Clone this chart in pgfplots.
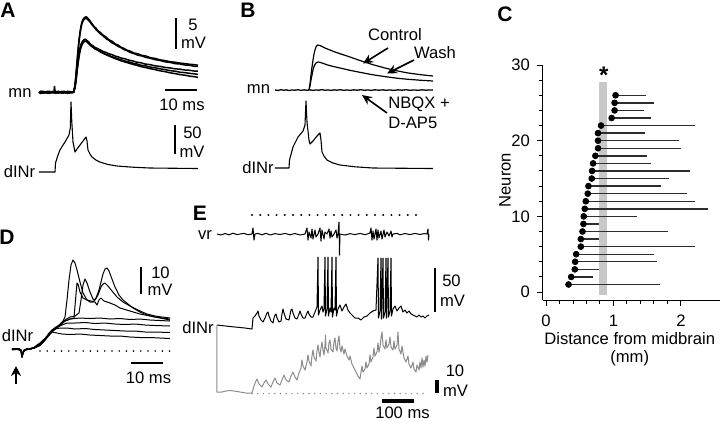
\documentclass[border=0pt]{standalone}
\usepackage{fontspec}
\setmainfont{Liberation Sans}
\usepackage{pgfplots}
\usepackage{pgfplotstable}
\pgfplotsset{compat=1.18}
\usetikzlibrary{arrows.meta}
\definecolor{trgray}{RGB}{140,140,140}
\definecolor{bargray}{RGB}{200,200,200}
\definecolor{linegray}{RGB}{45,45,45}
\newcommand\lf{\fontsize{8.3}{9}\selectfont}
\newcommand\pf{\fontsize{10.5}{12}\selectfont\bfseries}
\tikzset{txt/.style={font=\lf, inner sep=0pt}, plab/.style={font=\pf, inner sep=0pt}}

\pgfplotstableread{
n start end
1 0.334 1.685
2 0.373 0.698
3 0.427 0.791
4 0.432 1.641
5 0.447 1.597
6 0.516 2.211
7 0.516 0.791
8 0.541 1.808
9 0.555 0.781
10 0.560 1.356
11 0.575 2.408
12 0.590 2.211
13 0.619 2.088
14 0.629 1.710
15 0.678 1.828
16 0.683 2.142
17 0.698 1.553
18 0.732 1.499
19 0.771 1.995
20 0.771 1.966
21 0.771 1.474
22 0.816 2.211
23 0.973 1.553
24 1.017 1.450
25 1.017 1.602
26 1.032 1.484
}\neurontable

\begin{document}
\begin{tikzpicture}
\useasboundingbox (0,0) rectangle (360pt,-210pt);
% ---------- overlay axis in pixel units for traces (A, B, D, E) ----------
\begin{axis}[at={(0pt,0pt)}, anchor=north west, scale only axis,
  width=360pt, height=210pt, xmin=0, xmax=720, ymin=0, ymax=420,
  y dir=reverse, hide axis, clip=false,
  every axis plot/.append style={mark=none, line join=round, black, line width=0.5pt}]
% ===== Panel A =====
\node[plab] at (8,10.5) {A};
\addplot[line width=0.75pt] coordinates {(39,92)(40.5,93.5)(42,91)(43.5,93.2)(45,91.5)(46.5,93)(48,91.2)(49.5,93.4)(51,91.6)(52.5,93)(54,91.5)(54.5,86.5)(55.3,93.5)(57,91.4)(58.5,93.2)(60,91.5)(61.5,93.3)(63,91.2)(64.5,93)(66,91.6)(67.5,93.4)(69,91.3)(70.5,93)(72,91.6)(73.5,92.5)};
\addplot[line width=0.75pt] coordinates {(39,93)(40.5,91.2)(42,93.4)(43.5,91.3)(45,93.2)(46.5,91.4)(48,93.5)(49.5,91.2)(51,93.1)(52.5,91.3)(54,93.2)(55.5,91.2)(57,93.4)(58.5,91.2)(60,93.1)(61.5,91.4)(63,93.3)(64.5,91.3)(66,93.2)(67.5,91.2)(69,93.3)(70.5,91.5)(72,93)(73.5,92.5)};
\addplot[line width=0.75pt] coordinates {(73.5,92.5)(75,85)(76,74)(77,62)(78,50)(79,40)(80,32)(81,26)(82,22)(83,19.5)(84,18)(85,17.2)(86,16.8)(87,17.3)(88,18.3)(90,20.8)(92,23.6)(94,26.4)(96,28.2)(98,30.8)(100,32.2)(103,35)(106,37)(109,39.8)(112,41.2)(115,43.8)(118,45)(121,47.2)(124,48.4)(127,50.2)(130,51)(134,53)(138,53.8)(142,55.4)(146,56)(150,57.6)(155,58.4)(160,59.8)(165,60.6)(170,61.7)(175,62.2)(180,63.1)(185,63.6)(190,64.3)(194,64.6)(198,65.2)};
\addplot[line width=0.75pt] coordinates {(73.5,92.5)(75,86)(76,76)(77,64)(78,52)(79,42)(80,34)(81,28)(82,23.5)(83,21)(84,19.5)(85,18.6)(86,18.4)(87,18.8)(88,19.8)(90,22)(92,24.8)(94,27)(96,29.6)(98,31.4)(100,33.6)(103,35.8)(106,38.6)(109,40.4)(112,42.8)(115,44.4)(118,46.4)(121,47.6)(124,49.6)(127,50.6)(130,52.4)(134,53.6)(138,55.2)(142,56)(146,57.4)(150,58.2)(155,59.6)(160,60.4)(165,61.8)(170,62.4)(175,63.6)(180,64)(185,65)(190,65.3)(194,66.2)(198,66.4)};
\addplot[line width=0.75pt] coordinates {(73.5,92.5)(75,87)(76,80)(77,71)(78,62)(79,55)(80,49.5)(81,45.5)(82,43)(83,41.3)(84,40.2)(85,39.6)(86,39.8)(87,40.6)(89,42.4)(91,44.6)(93,45.8)(95,47.4)(97,48.2)(100,49.8)(103,51.4)(106,52.4)(109,53.8)(112,54.6)(115,56)(118,56.8)(121,58)(125,58.8)(129,60.2)(133,61)(137,62.2)(141,62.8)(145,64)(150,64.6)(155,65.8)(160,66.4)(165,67.4)(170,67.9)(175,68.8)(180,69.2)(185,70)(190,70.3)(194,71)(198,71.2)};
\addplot[line width=0.75pt] coordinates {(73.5,92.5)(75,88)(76,81)(77,72)(78,64)(79,57)(80,51.5)(81,47.5)(82,44.8)(83,43)(84,41.8)(85,41.2)(86,41.3)(87,42)(89,44)(91,46)(93,47.4)(95,49)(97,49.8)(100,51.6)(103,53)(106,54.4)(109,55.4)(112,56.8)(115,57.6)(118,58.8)(121,59.8)(125,61)(129,62)(133,63.2)(137,64)(141,65.2)(145,65.8)(150,67)(155,67.8)(160,68.8)(165,69.6)(170,70.6)(175,71.2)(180,72.2)(185,72.6)(190,73.4)(194,73.8)(198,74.4)};
\addplot[line width=0.75pt] coordinates {(73.5,92.5)(75,87)(76,79)(77,69)(78,60)(79,53)(80,48)(81,44.5)(82,42)(83,40.6)(84,39.6)(85,39.2)(86,39.6)(87,40.6)(89,42.8)(91,45)(93,46.6)(95,48.4)(97,49.6)(100,51.4)(103,53.2)(106,54.6)(109,56)(112,57.2)(115,58.6)(118,59.6)(121,60.8)(125,62)(129,63.2)(133,64.4)(137,65.4)(141,66.6)(145,67.4)(150,68.6)(155,69.6)(160,70.8)(165,71.6)(170,72.8)(175,73.6)(180,74.6)(185,75.2)(190,76.2)(194,76.6)(198,77.4)};
\addplot[line width=0.55pt] coordinates {(39,172)(55,172)(55.5,163)(58,155)(60,150)(63,145)(65,142)(67,138.5)(69,135)(70.3,128)(71,102)(71.8,122)(73,142)(75,152)(77,149)(80,145)(83,141)(86,137)(87,141)(88,150)(90,154)(92,157)(96,160)(100,162)(108,164.5)(117,166)(133,167.2)(150,168)(198,168.5)};
\node[txt] at (20,93) {mn};
\node[txt] at (19.5,172) {dINr};
\addplot[line width=1.3pt] coordinates {(176,18)(176,49)};
\node[txt] at (193,25) {5};
\node[txt] at (193.5,43) {mV};
\addplot[line width=1.3pt] coordinates {(165,90)(197,90)};
\node[txt] at (182,105) {10 ms};
\addplot[line width=1.3pt] coordinates {(175,125)(175,154)};
\node[txt] at (192.5,133) {50};
\node[txt] at (192,152) {mV};
% ===== Panel B =====
\node[plab] at (248,10.5) {B};
\addplot[line width=0.65pt] coordinates {(275,90)(278,90.4)(281,89.7)(284,90.3)(286,89.8)(289,90.5)(292,89.9)(295,90.2)(298,89.7)(301,90.4)(304,89.8)(307,90.3)(310,89.8)(313,90.4)(316,89.9)(319,90.2)(322,89.6)(325,90.3)(328,89.9)(331,90.4)(334,89.8)(337,90.2)(340,89.7)(344,90.3)(347,89.9)(350,90.4)(354,89.8)(357,90.2)(361,89.7)(364,90.3)(368,89.9)(371,90.4)(375,89.8)(379,90.2)(383,89.8)(386,90.3)(390,89.9)(394,90.4)(398,89.8)(402,90.2)(406,89.7)(410,90.3)(414,89.9)(418,90.3)(422,89.8)(426,90.2)(430,89.9)(433,90.1)};
\addplot[line width=0.6pt] coordinates {(309,90)(310,84)(311,75)(312,67)(313,60)(314,54)(315,50)(316,47)(317,45.5)(318,45)(320,45.5)(322,46.5)(325,48)(330,50)(335,52)(340,53.7)(350,57)(360,60.5)(373,64.7)(385,68)(397,70.8)(407,72.8)(420,74.6)(433,76)};
\addplot[line width=0.6pt] coordinates {(309,90)(310,86)(311,80)(312,75)(313,70)(314,66.5)(315,64.5)(316,63)(318,62)(320,62.3)(323,63.3)(327,64.8)(333,66.4)(340,68)(350,70.3)(360,72.3)(373,74.8)(385,76.6)(397,78.2)(407,79.2)(420,80.2)(433,81)};
\addplot[line width=0.55pt] coordinates {(275,168)(289,168)(289.5,160)(293,147)(298,137)(303,131)(305,125)(306,101)(307,122)(309,140)(310,144)(313,141)(317,136)(320,133)(321,140)(322,152)(324,156)(327,160)(333,163)(340,165)(355,166.8)(373,168)(433,168.5)};
\node[txt] at (258.5,89) {mn};
\node[txt] at (258,168) {dINr};
\node[txt] at (395,35) {Control};
\node[txt] at (435,53) {Wash};
\node[txt, anchor=west] at (388,104.5) {NBQX +};
\node[txt, anchor=west] at (388,122.5) {D-AP5};
\draw[line width=0.8pt, -{Stealth[length=5pt,width=4.5pt]}] (388,48) -- (363,63.5);
\draw[line width=0.8pt, -{Stealth[length=5pt,width=4.5pt]}] (414,60) -- (387,73.5);
\draw[line width=0.8pt, -{Stealth[length=5pt,width=4.5pt]}] (387,113) -- (362,95);
% ===== Panel D =====
\node[plab] at (7,237) {D};
\addplot[line width=0.5pt] coordinates {(12,349)(16,348.5)(19,349.5)(21,351)(22,357)(23,354)(24,350)(27,349)(31,348.5)(34,348)(37,346)(40,344)(43,341)(46,337)(49,334)(52,331)(55,328)(58,326)(60,324)(63,321)(65,317)(67,300)(69,280)(71,265)(73,260)(75,263)(77,270)(80,282)(83,293)(87,300)(90,302)(93,302)(96,298)(99,290)(101,282)(103,274)(105,269)(107,268)(109,271)(112,279)(115,287)(119,295)(123,300)(128,304)(133,308)(140,312)(147,315)(155,317)(162,318)(170,319)};
\addplot[line width=0.5pt] coordinates {(12,350)(16,349.5)(19,348.5)(21,350)(22,356)(23,353)(24,351)(27,348.5)(31,349)(34,347.5)(37,345)(40,343)(43,340)(46,338)(49,333)(52,330)(55,329)(58,327)(60,325)(65,320)(70,317)(75,316)(79,313)(81,300)(83,285)(85,279)(87,283)(90,292)(93,299)(95,300)(98,295)(101,287)(103,284)(105,283)(108,286)(112,291)(117,297)(123,302)(130,306)(140,311)(147,314)(155,316)(162,317)(170,318)};
\addplot[line width=0.5pt] coordinates {(12,348.5)(16,349)(19,350)(21,350.5)(22,356.5)(23,352)(24,350.5)(27,349.5)(31,348)(34,348.5)(37,346.5)(40,343.5)(43,342)(46,337.5)(49,335)(52,331)(55,329)(58,327)(60,325)(65,321)(70,319)(74,318)(75.5,300)(77,283)(78,284)(80,292)(83,298)(87,300)(91,301)(95,302)(97,305)(99,300)(101,298)(104,301)(110,303)(115,305)(120,308)(130,311)(140,314)(150,316)(160,318)(170,320)};
\addplot[line width=0.5pt] coordinates {(12,349)(19,349)(21,350)(22,357.5)(23,353)(25,349.5)(31,348.8)(35,347)(40,345)(44,340)(48,335)(52,330)(56,327)(60,325)(65,321)(70,319)(80,318)(90,318.5)(100,318)(110,319)(120,318.5)(130,319.5)(140,319)(150,320)(160,320.5)(170,321)};
\addplot[line width=0.5pt] coordinates {(12,349.5)(19,349)(21,351)(22,356)(23,352)(25,350)(31,349)(35,347.5)(40,345.5)(44,341)(48,336)(52,332)(56,328.5)(58,327)(62,325)(67,323)(75,323)(85,322.5)(95,323.5)(105,323)(115,324)(125,324.5)(135,324)(145,325)(155,325.5)(170,326)};
\addplot[line width=0.5pt] coordinates {(12,349)(19,349.5)(21,350.5)(22,357)(23,353)(25,349.5)(31,348.5)(35,347)(40,345)(44,341)(48,336)(52,331.5)(55,329)(60,328)(67,328)(75,329)(85,328.5)(95,329.5)(105,330)(115,330.5)(125,331)(135,331)(145,332)(155,332)(170,332.5)};
\addplot[line width=0.5pt] coordinates {(12,349)(19,349)(21,350)(22,356.5)(23,352.5)(25,350)(31,349)(35,347.5)(40,345.5)(44,341.5)(48,336.5)(52,332)(57,333)(62,334)(70,334.5)(80,334)(90,335)(100,335.5)(110,336)(120,336)(130,337)(140,337.5)(150,337.5)(160,338)(170,338.5)};
\addplot[line width=0.9pt, line cap=round, dash pattern=on 0pt off 3.6pt] coordinates {(40,351)(170,351)};
\node[txt] at (17.5,336) {dINr};
\addplot[line width=1.3pt] coordinates {(141,267)(141,294)};
\node[txt] at (160.5,272.5) {10};
\node[txt] at (160,290) {mV};
\addplot[line width=1.2pt] coordinates {(131,363)(163,363)};
\node[txt] at (148.5,378) {10 ms};
\draw[line width=1pt, -{Stealth[length=5pt,width=5pt]}] (16,384) -- (16,366);
% ===== Panel E =====
\node[plab] at (200,213) {E};
\addplot[line width=1.1pt, line cap=round, dash pattern=on 0pt off 4.1pt] coordinates {(252,215)(424,215)};
\node[txt] at (205,235) {vr};
\addplot[line width=0.5pt] coordinates {(217,234)(221,235)(225,233.5)(229,234.8)(233,233.2)(237,234.6)(240,234)(244,233.4)(248,234.7)(252,234)(253,228)(254,240)(255,234)(258,233.4)(262,234.8)(266,233.3)(270,235)(275,233.6)(280,234.5)(285,233.4)(290,234.8)(295,233.5)(300,235)(305,234)(307,228)(308,240)(309,232)(311,238)(312,229)(313,239)(315,230)(316,237)(318,234)(320,228)(321,241)(322,230)(324,239)(325,232)(327,234)(329,229)(330,238)(331,231)(332,237)(334,234)(336,230)(337,238)(338,234)(339,222)(339.5,255)(340,234)(345,235)(350,233.6)(355,234.6)(360,233.4)(365,234.7)(370,233)(371,228)(372,240)(373,231)(374,239)(376,229)(377,240)(378,230)(379,238)(381,231)(382,239)(384,230)(385,237)(387,232)(389,236)(391,231)(392,237)(393,234)(397,233.4)(400,234.8)(405,233.5)(410,234.6)(415,233.4)(420,234.5)(424,233.6)(427,234)(428,229)(428.5,240)(429,234)};
\addplot[line width=0.5pt] coordinates {(217,325)(230,326.5)(245,328)(252,329)(253,318)(255,316)(257,313)(258,311)(259,316)(261,320)(263,322)(265,318)(267,313)(268,312)(269,316)(271,321)(273,323)(274,318)(275,315)(276,314)(277,318)(279,322)(281,321)(282,314)(283,309)(284,313)(286,319)(289,320)(290,315)(291,310)(292,309)(293,313)(295,318)(297,319)(299,314)(300,311)(301,314)(303,318)(305,318)(307,313)(308,311)(309,314)(311,317)(313,317)(315,312)(317,307)(318,257)(318.5,315)(320,310)(322,306)(323,312)(324,309)(325,257)(325.5,316)(327,309)(328,257)(328.5,316)(330,308)(331,312)(332,257)(332.5,317)(334,308)(335,310)(336,257)(336.5,316)(338,309)(340,305)(342,311)(344,307)(346,304)(348,310)(350,313)(352,315)(355,318)(358,318)(361,320)(364,317)(367,316)(370,313)(373,311)(376,310)(378,258)(378.5,318)(380,311)(381,258)(381.5,319)(383,258)(383.5,318)(385,312)(386,258)(386.5,318)(388,258)(388.5,317)(390,311)(391,258)(391.5,316)(393,309)(395,306)(397,311)(399,308)(401,306)(403,312)(405,310)(407,313)(409,311)(411,314)(413,315)(415,316)(417,317)(419,315)(421,317)(423,316)(425,318)(427,316)(429,315)};
\addplot[trgray, line width=0.5pt] coordinates {(217,325)(217,392)(222,392)(226,391)(230,390.5)(234,391)(240,392)(246,393)(252,393)(254,386)(256,381)(257,379)(259,384)(262,387)(264,383)(266,380)(268,384)(271,387)(273,382)(275,378)(277,383)(280,385)(282,380)(284,375)(286,380)(289,382)(291,376)(293,372)(295,377)(297,380)(299,373)(301,368)(302,360)(303,366)(305,370)(307,362)(308,355)(309,361)(311,366)(312,356)(313,350)(314,357)(316,361)(317,351)(318,345)(319,352)(320,357)(321,348)(322,342)(323,350)(324,355)(325,345)(325.5,335)(326,348)(328,353)(329,343)(330,340)(331,349)(333,352)(334,342)(335,338)(336,348)(337,351)(338,341)(339,336)(340,348)(341,352)(342,346)(344,354)(345,349)(347,356)(349,360)(350,356)(352,364)(354,368)(356,372)(358,376)(360,379)(361,372)(362,366)(363,372)(365,369)(366,362)(367,368)(369,364)(370,355)(371,362)(373,357)(374,348)(375,356)(377,352)(378,343)(379,352)(380,347)(381,338)(382,332)(383,345)(385,349)(386,340)(387,348)(389,344)(390,337)(391,347)(393,350)(394,341)(395,349)(397,345)(398,332)(399,349)(401,354)(402,346)(404,358)(406,362)(408,356)(409,364)(411,368)(413,362)(414,369)(416,372)(417,365)(419,370)(420,362)(421,368)(422,358)(423,367)(424,360)(425,366)(426,356)(427,362)(428,355)};
\addplot[trgray, line width=0.8pt, line cap=round, dash pattern=on 0pt off 2.85pt] coordinates {(252,393.5)(428,393.5)};
\node[txt] at (198,327.5) {dINr};
\addplot[line width=1.4pt] coordinates {(435,268)(435,312)};
\node[txt] at (451.5,281) {50};
\node[txt] at (452.5,301) {mV};
\addplot[line width=1.6pt] coordinates {(437,380)(437,393)};
\node[txt] at (455,371) {10};
\node[txt] at (455.5,391) {mV};
\addplot[line width=1.6pt] coordinates {(382,401)(414,401)};
\node[txt] at (402.5,413) {100 ms};
\node[plab] at (505,14.5) {C};
\end{axis}
% ---------- Panel C ----------
\begin{axis}[at={(271.5pt,-150pt)}, anchor=south west, scale only axis,
  width=88.5pt, height=117.5pt,
  xmin=-0.045, xmax=2.58, ymin=-1.05, ymax=30,
  axis x line*=bottom, axis y line*=left,
  xtick={0,1,2}, ytick={0,10,20,30},
  minor x tick num=4, minor y tick num=4,
  tick align=outside, major tick length=3pt, minor tick length=2pt,
  every tick/.style={black, line width=0.5pt},
  axis line style={line width=0.5pt},
  tick label style={font=\lf},
  xticklabel style={yshift=-1pt},
  /pgf/number format/assume math mode=true,
  label style={font=\lf},
  xlabel={Distance from midbrain\\(mm)},
  xlabel style={at={(axis description cs:0.49,-0.209)}, anchor=center, align=center},
  ylabel={Neuron},
  ylabel style={at={(axis description cs:-0.215,0.51)}, anchor=center},
  clip=false]
\addplot[fill=bargray, draw=none] coordinates {(0.786,-0.35) (0.909,-0.35) (0.909,27.7) (0.786,27.7)} -- cycle;
\addplot[linegray, line width=0.7pt, mark=none, -, quiver={u=\thisrow{end}-\thisrow{start}, v=0}] table[x=start, y=n] {\neurontable};
\addplot[black, only marks, mark=*, mark size=1.45pt] table[x=start, y=n] {\neurontable};
\node[inner sep=0pt, font=\fontsize{12}{12}\selectfont\bfseries] at (axis cs:0.855,28.6) {*};
\end{axis}
\end{tikzpicture}
\end{document}
